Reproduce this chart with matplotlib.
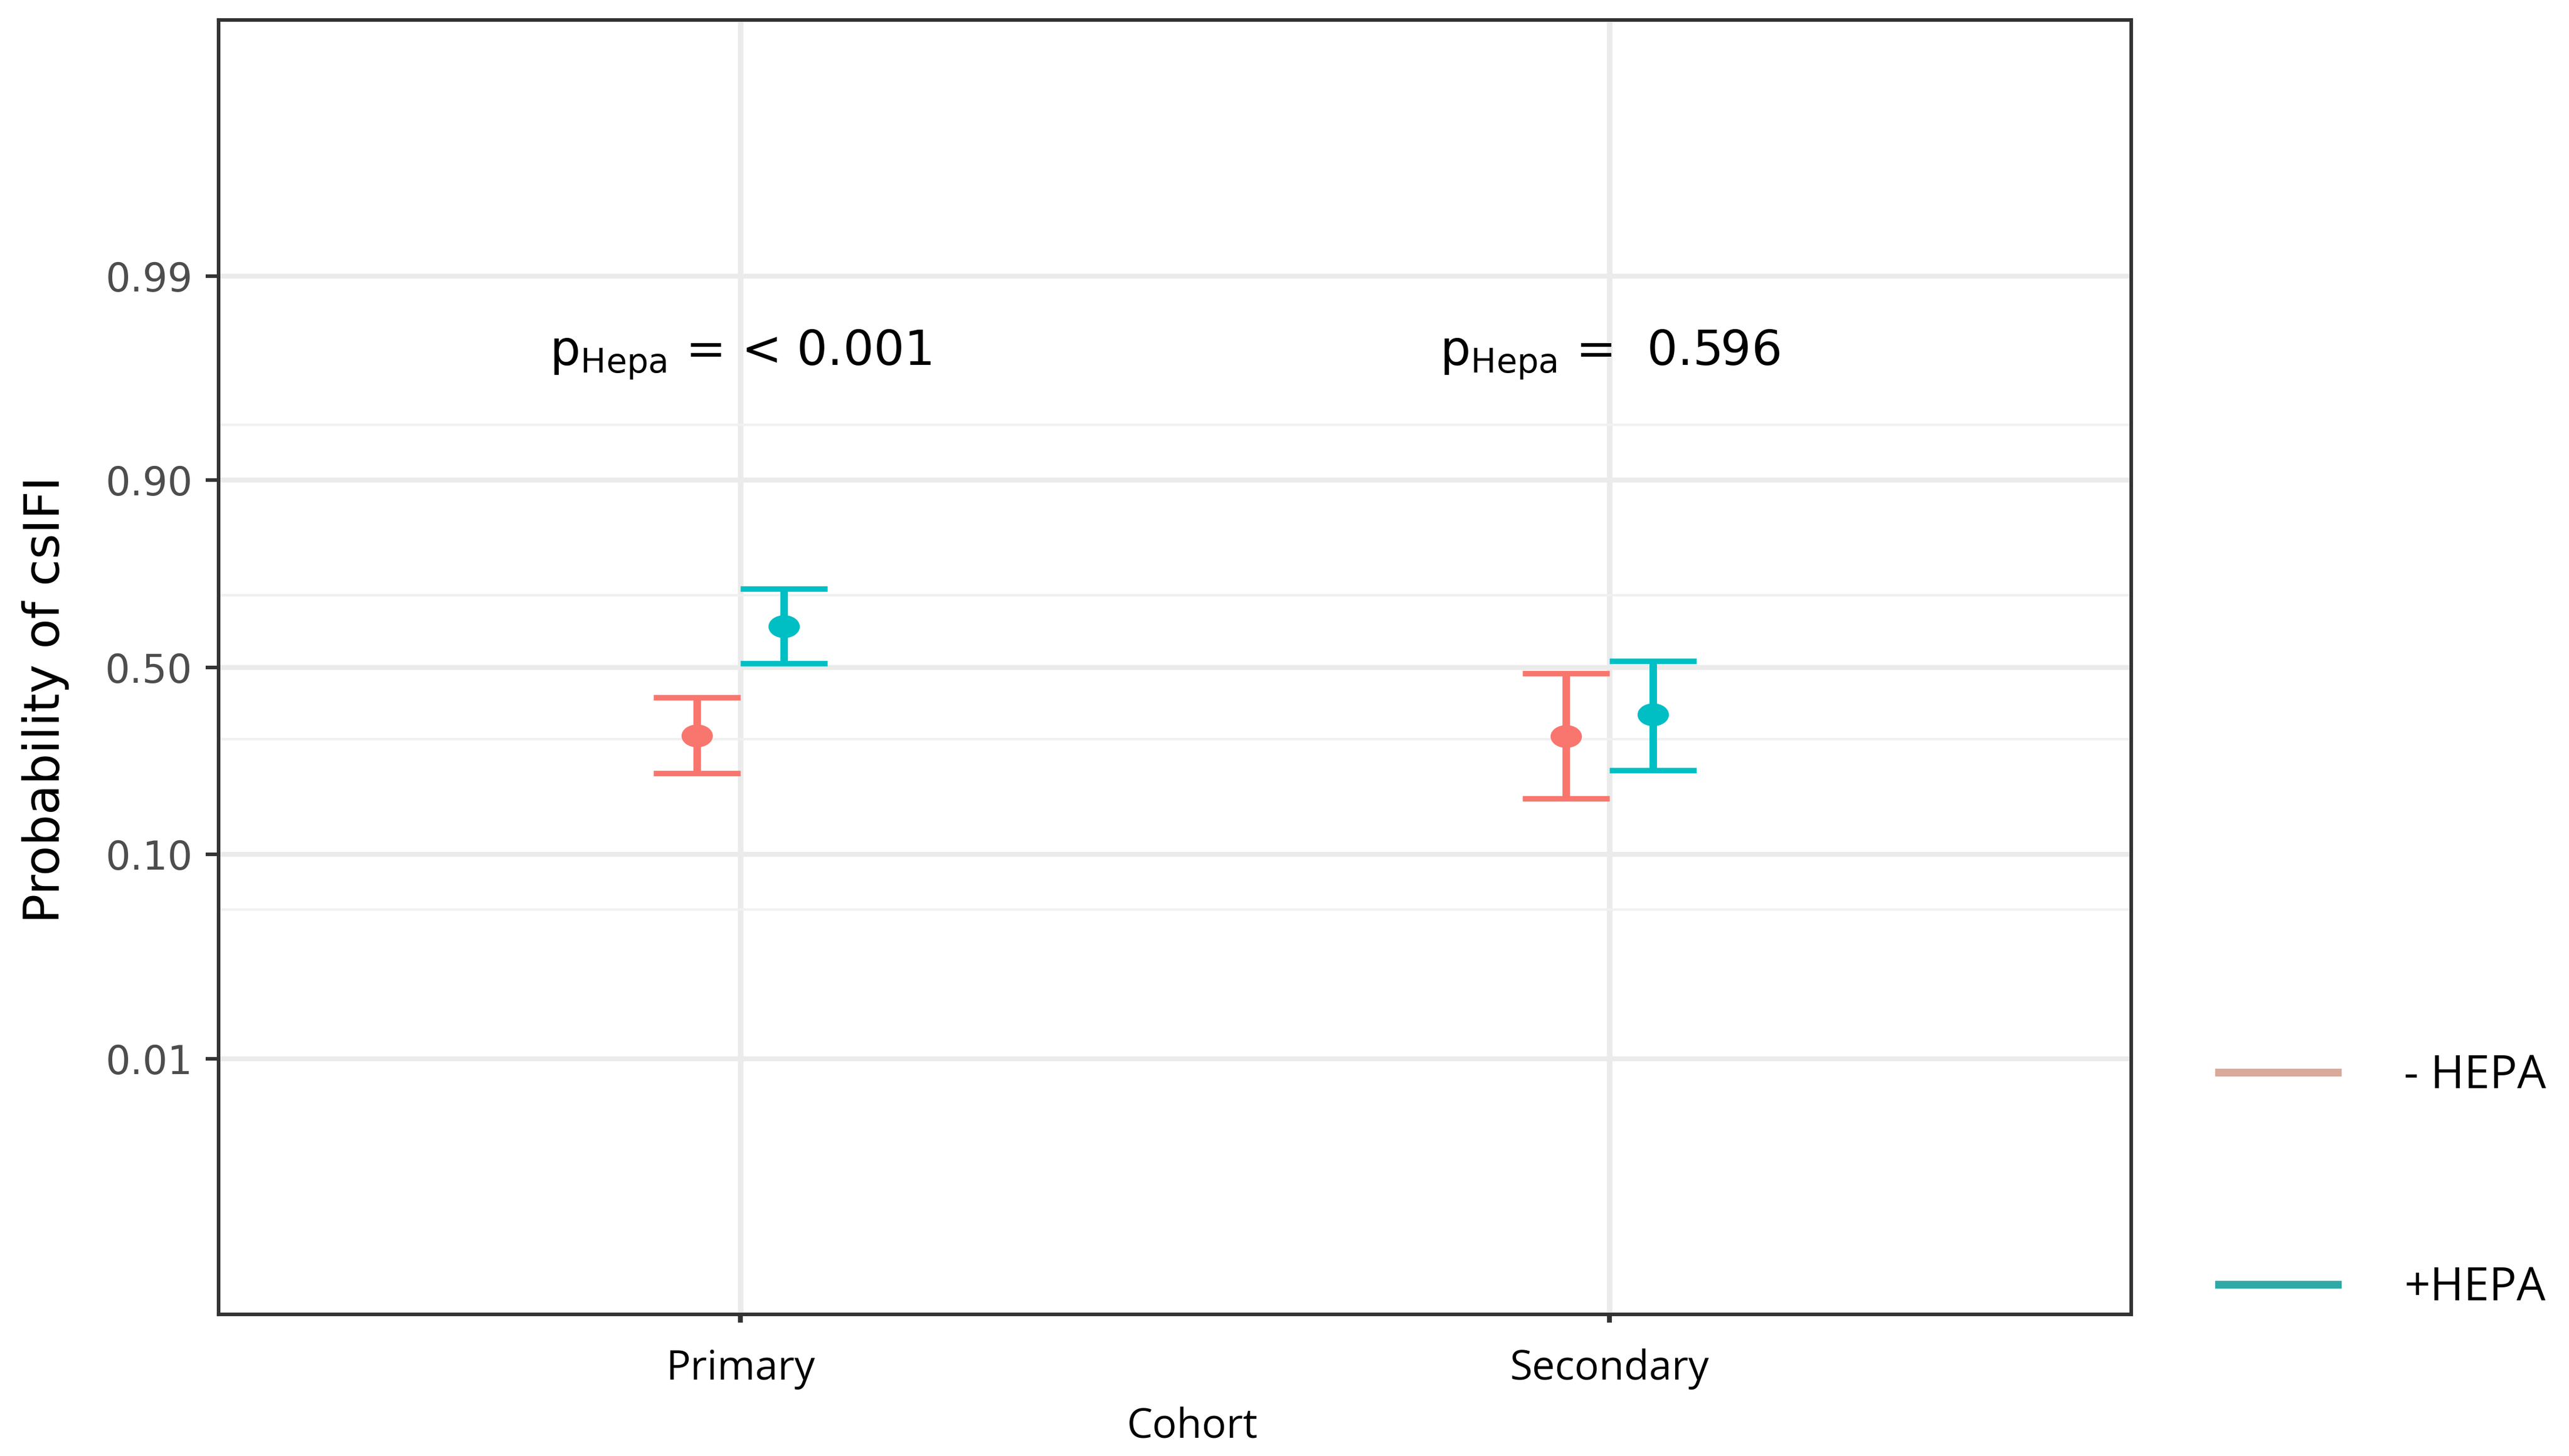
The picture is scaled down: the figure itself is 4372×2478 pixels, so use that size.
"""Predicted probability of csIFI by cohort, with and without HEPA filtration."""
import matplotlib
matplotlib.use('Agg')
import matplotlib.pyplot as plt
from matplotlib.lines import Line2D
from matplotlib.markers import MarkerStyle
from matplotlib.ticker import FixedLocator, FixedFormatter, NullFormatter
from matplotlib.transforms import Affine2D

# data
COHORTS = ['Primary', 'Secondary']
GROUPS = ['- HEPA', '+HEPA']
P_NO_HEPA = [0.310, 0.308]
LO_NO_HEPA = [0.223, 0.176]
HI_NO_HEPA = [0.412, 0.482]
P_HEPA = [0.618, 0.364]
LO_HEPA = [0.511, 0.229]
HI_HEPA = [0.716, 0.519]
P_VALUES = ['< 0.001', ' 0.596']
Y_TICKS = [0.01, 0.10, 0.50, 0.90, 0.99]
Y_MINOR = [0.055, 0.30, 0.70, 0.945]

COL_NO = '#F8766D'
COL_HE = '#00BFC4'
LEG_COLS = ['#D9A99A', '#2EA9A5']
DODGE = 0.05
CAP = 0.05

fig = plt.figure(figsize=(21.86, 12.39), dpi=200)
ax = fig.add_axes([0.0851, 0.0972, 0.7445, 0.8891])

ax.set_yscale('logit')
ax.set_xlim(0.4, 2.6)
ax.set_ylim(0.0005, 0.9995)

ell = MarkerStyle('o', transform=Affine2D().scale(1.4, 1.0))
xs = [i + 1 for i in range(len(COHORTS))]
for p, lo, hi, col, off in [(P_NO_HEPA, LO_NO_HEPA, HI_NO_HEPA, COL_NO, -DODGE),
                            (P_HEPA, LO_HEPA, HI_HEPA, COL_HE, DODGE)]:
    xx = [x + off for x in xs]
    yerr = [[a - b for a, b in zip(p, lo)], [b - a for a, b in zip(p, hi)]]
    ax.errorbar(xx, p, yerr=yerr, fmt='none', ecolor=col, elinewidth=4.6,
                capsize=0, zorder=3)
    ax.hlines(lo, [x - CAP for x in xx], [x + CAP for x in xx], color=col,
              lw=3.4, zorder=3)
    ax.hlines(hi, [x - CAP for x in xx], [x + CAP for x in xx], color=col,
              lw=3.4, zorder=3)
    ax.plot(xx, p, ls='none', marker=ell, ms=13, color=col, zorder=4)

for x, pv in zip(xs, P_VALUES):
    ax.text(x, 0.972, rf'$\mathregular{{p_{{Hepa}}}}$ = {pv}', ha='center',
            va='baseline', fontsize=29.5, family='DejaVu Sans', color='black')

# axes styling (ggplot theme_bw-ish)
ax.set_xticks(xs)
ax.set_xticklabels(COHORTS, family='Open Sans', fontsize=25, color='black')
ax.yaxis.set_major_locator(FixedLocator(Y_TICKS))
ax.yaxis.set_major_formatter(FixedFormatter([f'{v:.2f}' for v in Y_TICKS]))
ax.yaxis.set_minor_locator(FixedLocator(Y_MINOR))
ax.yaxis.set_minor_formatter(NullFormatter())
ax.tick_params(axis='y', which='major', length=8, width=2.2, color='#333333',
               labelsize=24, labelcolor='#4D4D4D', pad=8)
ax.tick_params(axis='y', which='minor', length=0)
ax.tick_params(axis='x', length=5, width=3, color='#333333', pad=16)
for lab in ax.get_yticklabels():
    lab.set_family('DejaVu Sans')

ax.grid(True, which='major', axis='y', color='#EBEBEB', lw=3.0, zorder=0)
ax.grid(True, which='minor', axis='y', color='#F0F0F0', lw=1.5, zorder=0)
ax.grid(True, which='major', axis='x', color='#EBEBEB', lw=3.4, zorder=0)
ax.set_axisbelow(True)
for side in ax.spines.values():
    side.set_color('#333333')
    side.set_linewidth(2.2)

ax.set_xlabel('Cohort', family='Open Sans', fontsize=25, color='black',
              va='center')
ax.xaxis.set_label_coords(0.509, -0.087)
ax.set_ylabel('Probability of csIFI', family='DejaVu Sans', fontsize=30,
              color='black', va='center')
ax.yaxis.set_label_coords(-0.0905, 0.475)

handles = [Line2D([], [], color=c, lw=4.8) for c in LEG_COLS]
fig.legend(handles, GROUPS, loc='center left', bbox_to_anchor=(0.8637, 0.1880),
           frameon=False, borderpad=0, borderaxespad=0, handlelength=2.6,
           handletextpad=1.45, labelspacing=3.63,
           prop={'family': 'Open Sans', 'size': 28})

fig.savefig('out.png', dpi=200, facecolor='white')
